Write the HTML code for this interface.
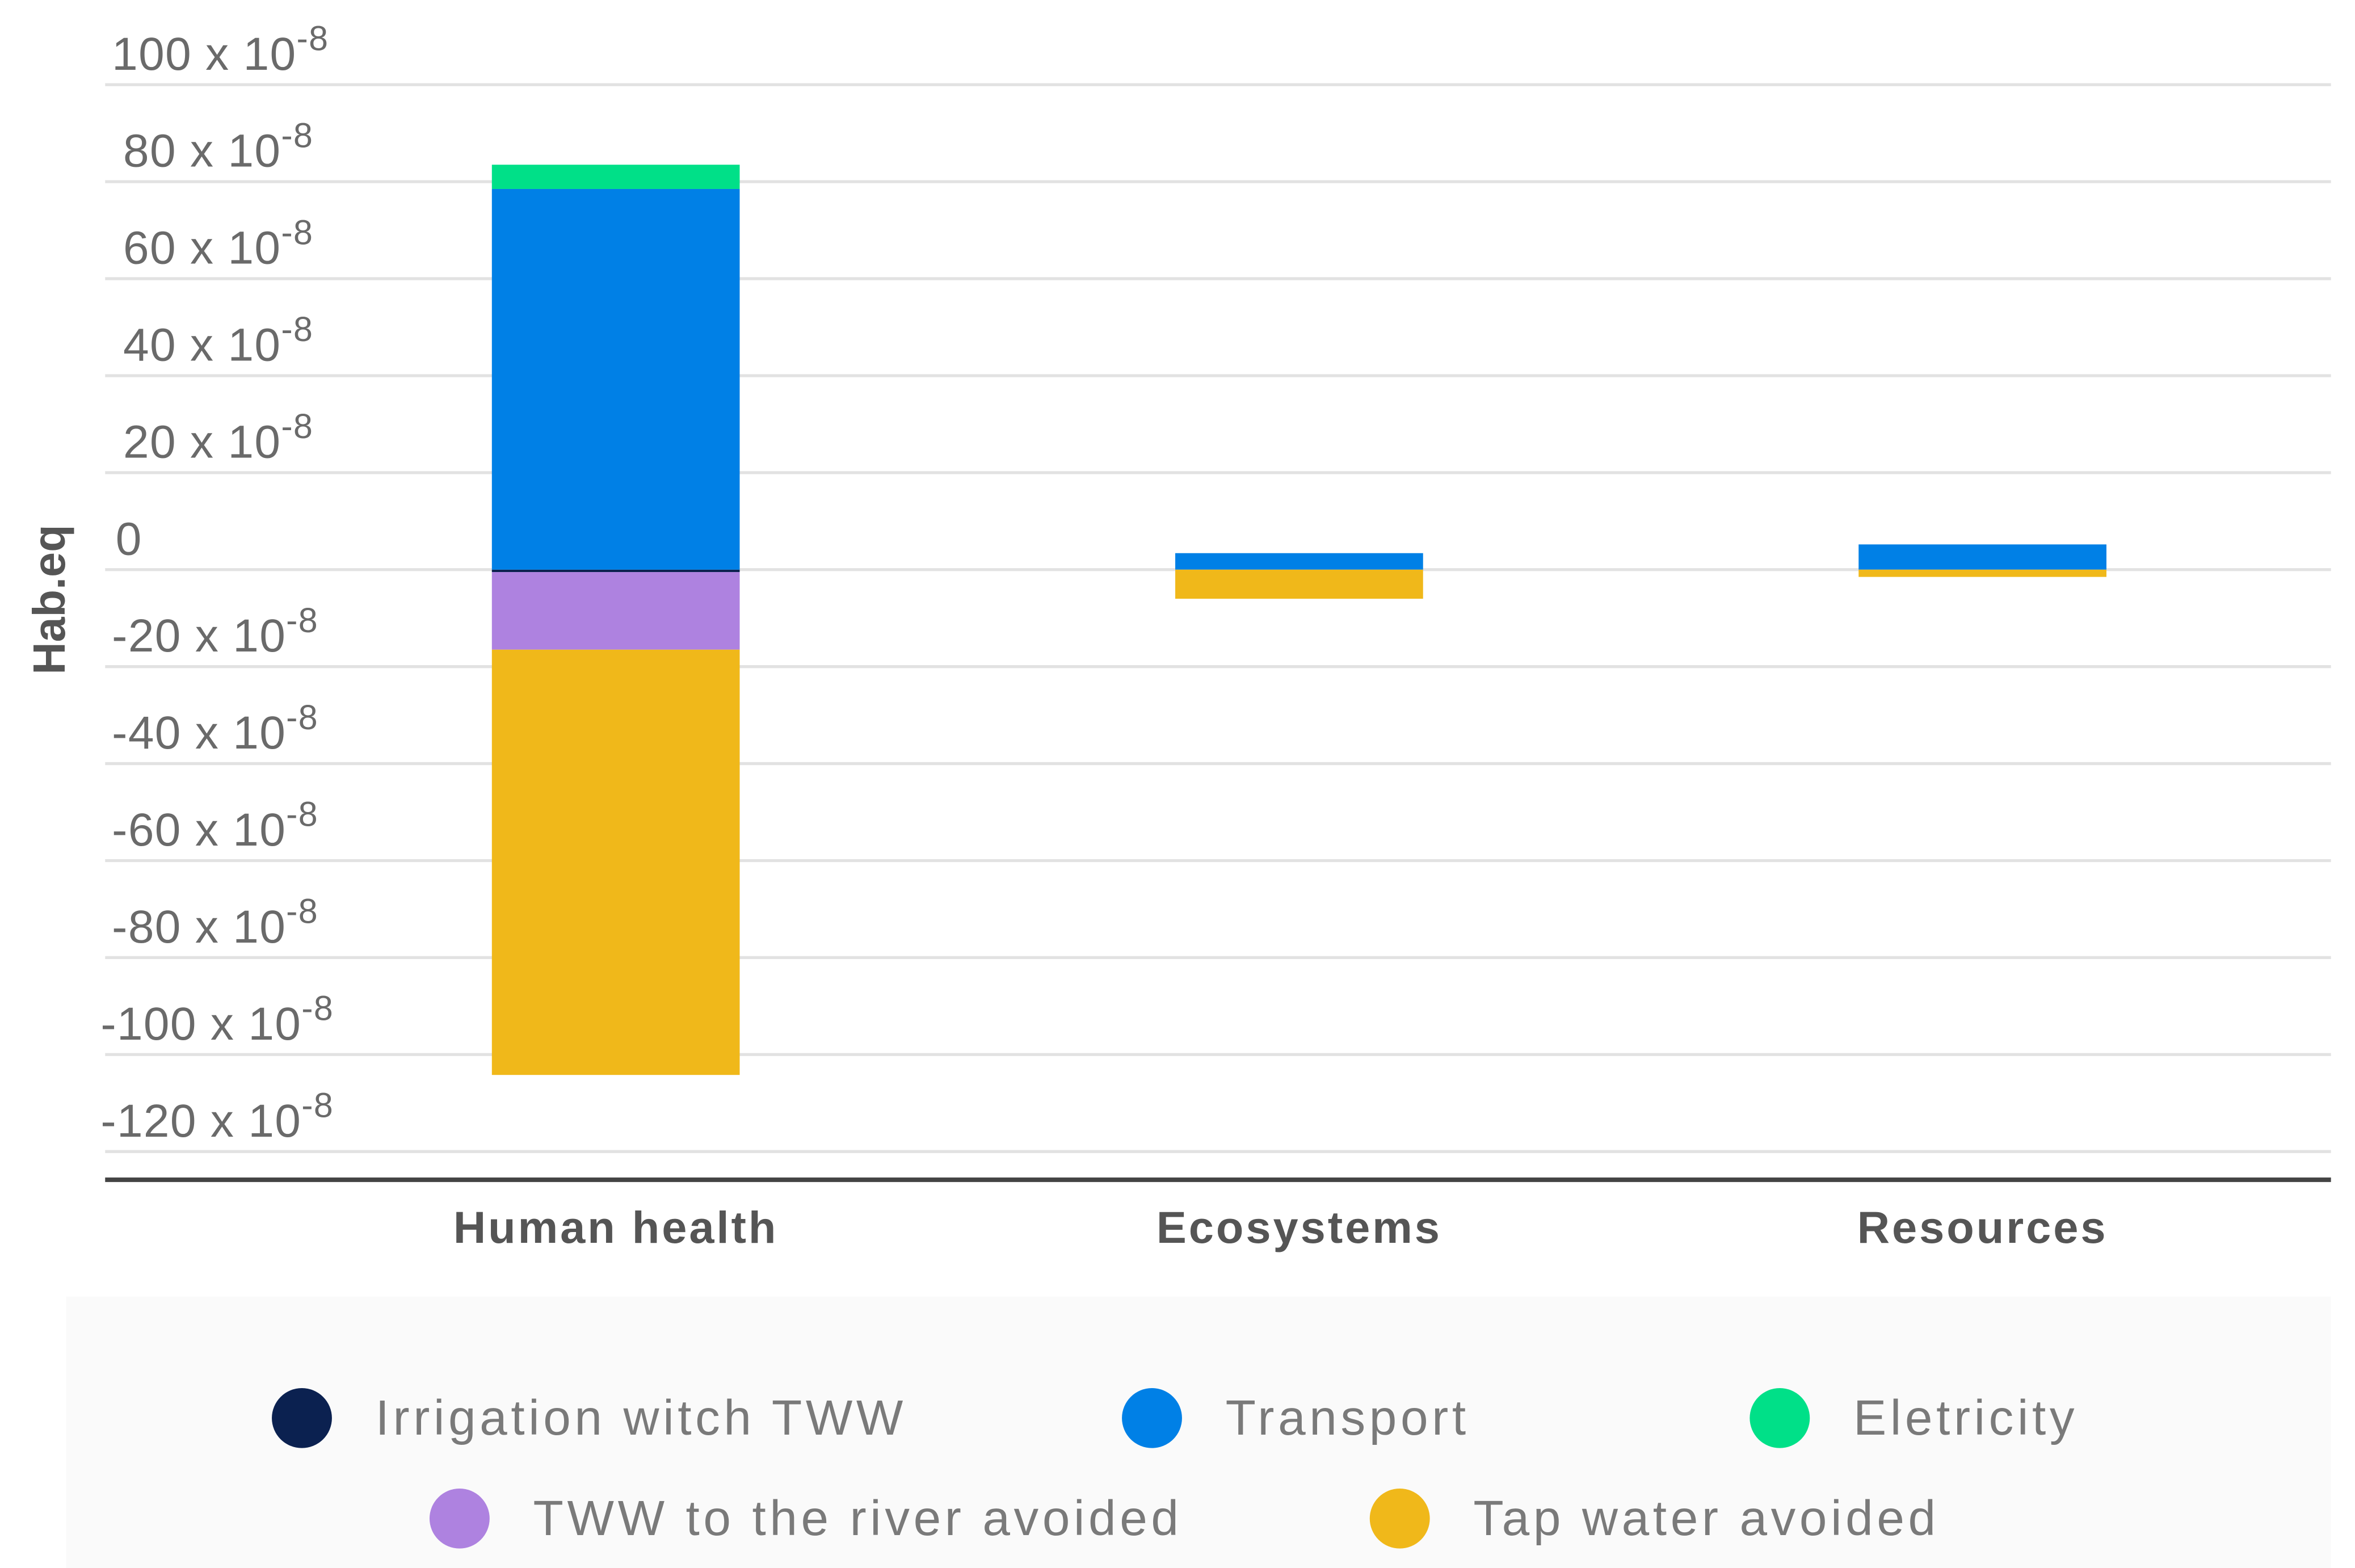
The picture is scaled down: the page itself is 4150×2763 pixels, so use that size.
<!DOCTYPE html>
<html><head><meta charset="utf-8"><style>
html,body{margin:0;padding:0;background:#fff;}
svg{display:block;}
text{font-family:"Liberation Sans",sans-serif;}
</style></head><body>
<svg id="chart" width="4150" height="2763" viewBox="0 0 1568 1046" preserveAspectRatio="none" xmlns="http://www.w3.org/2000/svg">
<rect x="44" y="865" width="1508" height="181" fill="#fafafa"/>
<g id="grid"></g>
<g id="bars"></g>
<line x1="70" x2="1552" y1="787" y2="787" stroke="#444" stroke-width="3"/>
<g id="labels"></g>
<text transform="translate(43,400) rotate(-90)" text-anchor="middle" font-size="30" font-weight="bold" fill="#555">Hab.eq</text>
<g id="legend"></g>
</svg>
<script>
const categories = ["Human health","Ecosystems","Resources"];
const seriesNames = ["Irrigation witch TWW","Transport","Eletricity","TWW to the river avoided","Tap water avoided"];
const seriesColors = ["#0b2150","#0080e6","#00e088","#ae82e0","#f0b81a"];
const irrigation = [-0.5, 0, 0];
const transport = [78.5, 3.4, 5.2];
const electricity = [5, 0, 0];
const riverAvoided = [-16, 0, 0];
const tapAvoided = [-87.7, -6, -1.5];
const ticks = [100,80,60,40,20,0,-20,-40,-60,-80,-100,-120];

const NS="http://www.w3.org/2000/svg";
function y(v){return 380 - v*3.235;}
function xc(i){return 410 + i*455;}
const barW=165;
function mk(tag,attrs,parent){const e=document.createElementNS(NS,tag);for(const k in attrs)e.setAttribute(k,attrs[k]);parent.appendChild(e);return e;}
const grid=document.getElementById('grid'), bars=document.getElementById('bars'), labels=document.getElementById('labels'), legend=document.getElementById('legend');
ticks.forEach(t=>{
  const l=mk('line',{x1:70,x2:1552,y1:y(t),y2:y(t),stroke:'#e2e2e2','stroke-width':2},grid);
  
  
  const s=String(t);
  const tx = t===0?77:97-7.5*s.length;
  const tt=mk('text',{x:tx,y:y(t)-10,'font-size':31,fill:'#6a6a6a','letter-spacing':0.5},labels);
  
  
  if(t===0){tt.textContent='0';}
  else{tt.textContent=s+' x 10';const sp=document.createElementNS(NS,'tspan');sp.setAttribute('dy','-13');sp.setAttribute('font-size','23');sp.textContent='-8';tt.appendChild(sp);}
});
const series=[irrigation,transport,electricity,riverAvoided,tapAvoided];
categories.forEach((c,i)=>{
  let pos=0,neg=0;
  series.forEach((arr,s)=>{
    const v=arr[i]; if(!v) return;
    let y0,y1;
    if(v>0){y0=pos;y1=pos+v;pos=y1;}else{y0=neg;y1=neg+v;neg=y1;}
    const r=mk('rect',{x:xc(i)-barW/2,width:barW,y:Math.min(y(y0),y(y1)),height:Math.abs(y(y0)-y(y1)),fill:seriesColors[s]},bars);
    
    
  });
  const ct=mk('text',{x:xc(i),y:829,'text-anchor':'middle','font-size':30,'font-weight':'bold',fill:'#555','letter-spacing':1.5},labels);
  
  
  ct.textContent=c;
});
const legPos=[[201,946],[767,946],[1185,946],[306,1013],[932,1013]];
seriesNames.forEach((n,i)=>{
  const g=mk('g',{},legend);
  
  
  mk('circle',{cx:legPos[i][0],cy:legPos[i][1],r:20,fill:seriesColors[i]},g);
  const t=mk('text',{x:legPos[i][0]+49,y:legPos[i][1]+11,'font-size':33,fill:'#7a7a7a','letter-spacing':2.5},g);
  t.textContent=n;
});
</script>
</body></html>
